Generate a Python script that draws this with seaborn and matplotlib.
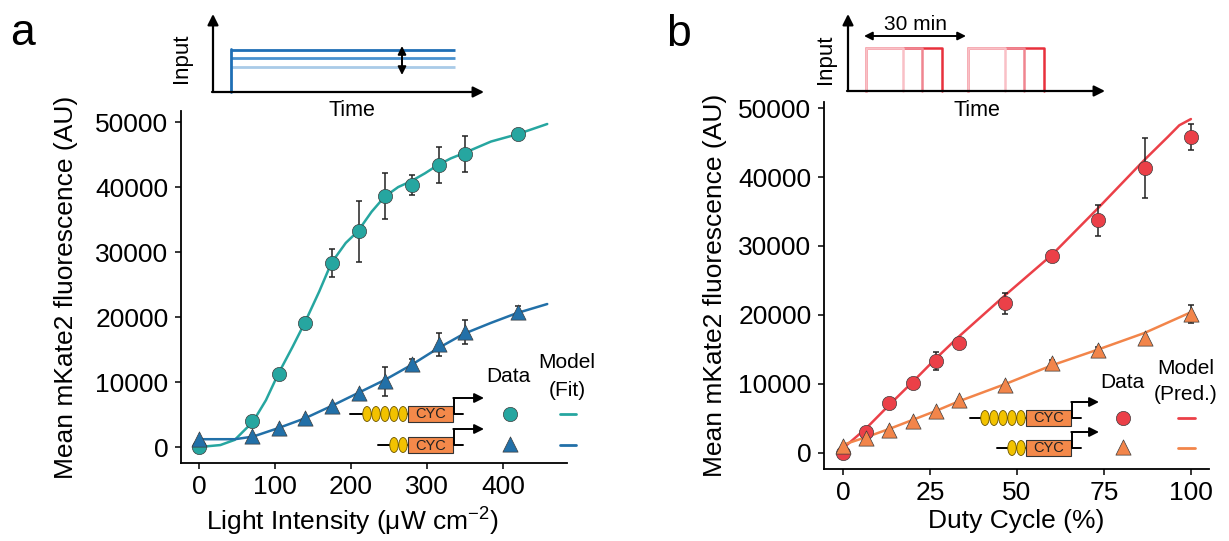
import numpy as np
import pandas as pd
import seaborn as sns
import matplotlib.pyplot as plt
from matplotlib.patches import Ellipse, Rectangle

# panel a: light intensity series
light_x = [0, 70, 105, 140, 175, 210, 245, 280, 315, 350, 420]
strong_a = [0, 4000, 11200, 19100, 28300, 33200, 38600, 40300, 43400, 45100, 48100]
strong_a_err = [0, 0, 0, 700, 2200, 4700, 3500, 1600, 2800, 2800, 0]
weak_a = [1200, 1700, 3000, 4500, 6300, 8300, 10100, 12800, 15800, 17700, 20700]
weak_a_err = [0, 0, 0, 0, 0, 0, 2200, 700, 1800, 1800, 1000]

fit_strong_x = [0, 28, 47, 71, 88, 104, 123, 139, 158, 174, 193, 209, 227, 244, 262, 279, 297, 313, 331, 348, 384, 418, 458]
fit_strong = [0, 300, 1100, 3900, 7200, 11200, 15400, 19100, 23900, 28300, 31400, 33200, 36200, 38500, 40000, 40900, 42100, 43300, 44400, 45200, 47000, 48100, 49700]
fit_weak_x = [0, 47, 71, 104, 139, 174, 209, 244, 279, 313, 348, 384, 418, 458]
fit_weak = [1200, 1200, 1600, 2900, 4400, 6300, 8300, 10300, 12600, 15100, 17400, 19100, 20600, 22000]

# panel b: duty cycle series
duty_x = [0, 6.67, 13.33, 20, 26.67, 33.33, 46.67, 60, 73.33, 86.67, 100]
strong_b = [0, 3100, 7300, 10100, 13400, 15900, 21700, 28600, 33700, 41300, 45800]
strong_b_err = [0, 0, 0, 0, 1300, 700, 1500, 0, 2200, 4300, 1900]
weak_b = [1000, 2200, 3300, 4700, 6100, 7700, 9900, 13000, 14900, 16600, 20200]
weak_b_err = [0, 0, 0, 0, 0, 0, 0, 500, 500, 0, 1300]

pred_strong_x = [0, 6.67, 13.33, 20, 26.67, 33.33, 46.67, 60, 73.33, 86.67, 93.33, 96.67, 100]
pred_strong = [700, 3600, 7000, 10300, 13700, 16900, 22900, 28700, 35500, 42500, 45800, 47500, 48400]
pred_weak_x = [0, 6.67, 13.33, 20, 26.67, 33.33, 46.67, 60, 73.33, 86.67, 100]
pred_weak = [1200, 2300, 3500, 4800, 6100, 7500, 10000, 12700, 15000, 17400, 20400]

teal = '#26a6a0'
blue = '#2270a8'
red = '#eb4048'
orange = '#f2854a'
yellow = '#f2c200'
box_orange = '#f4894a'

sns.set_style('ticks')
plt.rcParams['font.family'] = ['Liberation Sans', 'DejaVu Sans']
plt.rcParams['mathtext.fontset'] = 'custom'
plt.rcParams['mathtext.rm'] = 'Liberation Sans'
plt.rcParams['text.color'] = 'black'
plt.rcParams['axes.labelcolor'] = 'black'

W, H = 1229, 541
fig = plt.figure(figsize=(W / 100, H / 100), dpi=100)
ax_a = fig.add_axes([181 / W, (H - 463) / H, 386 / W, 352 / H])
ax_b = fig.add_axes([824 / W, (H - 469) / H, 385 / W, 367 / H])


def draw_series(ax, x, y, err, fx, fy, color, marker, size):
    df = pd.DataFrame({'x': x, 'y': y, 'err': err})
    sns.lineplot(x=fx, y=fy, ax=ax, color=color, lw=1.8, sort=False, estimator=None, zorder=2)
    e = df[df.err > 0]
    ax.errorbar(e.x, e.y, yerr=e.err, fmt='none', ecolor='#222222', elinewidth=1.1,
                capsize=2.5, capthick=1.1, zorder=3)
    sns.scatterplot(data=df, x='x', y='y', ax=ax, color=color, marker=marker, s=size,
                    edgecolor='#3c3c3c', linewidth=0.5, zorder=4)


draw_series(ax_a, light_x, strong_a, strong_a_err, fit_strong_x, fit_strong, teal, 'o', 105)
draw_series(ax_a, light_x, weak_a, weak_a_err, fit_weak_x, fit_weak, blue, '^', 120)
draw_series(ax_b, duty_x, strong_b, strong_b_err, pred_strong_x, pred_strong, red, 'o', 105)
draw_series(ax_b, duty_x, weak_b, weak_b_err, pred_weak_x, pred_weak, orange, '^', 120)

ax_a.set_xlim(-23.7, 484)
ax_a.set_ylim(-2460, 51700)
ax_a.set_xticks([0, 100, 200, 300, 400])
ax_b.set_xlim(-5.5, 105.2)
ax_b.set_ylim(-2320, 50870)
ax_b.set_xticks([0, 25, 50, 75, 100])

for ax in (ax_a, ax_b):
    ax.set_yticks(range(0, 50001, 10000))
    sns.despine(ax=ax)
    for s in ('left', 'bottom'):
        ax.spines[s].set_linewidth(1.3)
        ax.spines[s].set_color('black')
    ax.tick_params(direction='out', length=4, width=1.1, labelsize=19, pad=5,
                   colors='black', labelcolor='black')
    ax.set_ylabel('Mean mKate2 fluorescence (AU)', fontsize=19)
    ax.set_facecolor('none')

ax_a.set_xlabel('Light Intensity (μW cm$^{\\mathrm{-2}}$)', fontsize=19)
ax_b.set_xlabel('Duty Cycle (%)', fontsize=19)
ax_a.yaxis.set_label_coords(-0.267, 0.5)
ax_b.yaxis.set_label_coords(-0.252, 0.5)
ax_a.xaxis.set_label_coords(0.443, -0.118)
ax_b.xaxis.set_label_coords(0.5, -0.11)

# overlay in pixel coordinates for the schematics
ov = fig.add_axes([0, 0, 1, 1], zorder=5)
ov.set_xlim(0, W)
ov.set_ylim(H, 0)
ov.axis('off')
ov.patch.set_alpha(0)

arrow = dict(arrowstyle='-|>', color='black', lw=1.6, mutation_scale=16, shrinkA=0, shrinkB=0)
darrow = dict(arrowstyle='<|-|>', color='black', lw=1.4, mutation_scale=12, shrinkA=0, shrinkB=0)

ov.text(10, 45, 'a', fontsize=32, ha='left', va='baseline')
ov.text(666, 46, 'b', fontsize=32, ha='left', va='baseline')

# inset a: constant input levels
ov.annotate('', xy=(213, 14), xytext=(213, 92), arrowprops=arrow)
ov.annotate('', xy=(484, 92), xytext=(212, 92), arrowprops=arrow)
for yy, c in [(67, '#a9cbe8'), (58, '#4a92cf'), (50, '#1f6fb5')]:
    ov.plot([231, 455], [yy, yy], color=c, lw=2, solid_capstyle='butt')
ov.plot([231, 231], [92, 49], color='#1f6fb5', lw=2)
ov.annotate('', xy=(402, 46), xytext=(402, 75), arrowprops=darrow)
ov.text(181, 58, 'Input', fontsize=16, rotation=90, ha='center', va='center')
ov.text(352, 110, 'Time', fontsize=15.5, ha='center', va='center')

# inset b: pulsed input
ov.annotate('', xy=(848, 14), xytext=(848, 91), arrowprops=arrow)
ov.annotate('', xy=(1105, 91), xytext=(847, 91), arrowprops=arrow)
for start in (866, 968):
    for width, c in [(76, '#e8303c'), (56, '#f08590'), (37, '#f9c0c6')]:
        ov.plot([start, start, start + width, start + width], [91, 48, 48, 91], color=c, lw=1.8)
ov.annotate('', xy=(966, 36), xytext=(864, 36), arrowprops=darrow)
ov.text(915, 24, '30 min', fontsize=15, ha='center', va='center')
ov.text(826, 59, 'Input', fontsize=16, rotation=90, ha='center', va='center')
ov.text(977, 110, 'Time', fontsize=15.5, ha='center', va='center')


def construct(x_line, x_box, y, n_ovals, arrow_end):
    box_w = 45
    ov.plot([x_line, x_box + box_w + 10], [y, y], color='black', lw=1.4, zorder=1)
    for i in range(n_ovals):
        cx = x_box - 4.5 - 9 * (n_ovals - 1 - i) - 0.5
        ov.add_patch(Ellipse((cx, y), 8.5, 15, facecolor=yellow, edgecolor='#6b5400', lw=0.6, zorder=2))
    ov.add_patch(Rectangle((x_box, y - 8), box_w, 16, facecolor=box_orange, edgecolor='#333333', lw=0.8, zorder=2))
    ov.text(x_box + box_w / 2, y + 0.5, 'CYC', fontsize=10.5, ha='center', va='center', color='#222222', zorder=3)
    ov.plot([x_box + box_w + 1, x_box + box_w + 1], [y, y - 16], color='black', lw=1.4)
    ov.annotate('', xy=(arrow_end, y - 16), xytext=(x_box + box_w + 0.3, y - 16), arrowprops=dict(
        arrowstyle='-|>', color='black', lw=1.4, mutation_scale=14, shrinkA=0, shrinkB=0))


# legend a
construct(350, 408, 414, 5, 484)
construct(378, 408, 445, 2, 484)
ov.text(508, 377, 'Data', fontsize=15, ha='center', va='center')
ov.text(567, 362, 'Model', fontsize=15, ha='center', va='center')
ov.text(567, 390, '(Fit)', fontsize=15, ha='center', va='center')
ov.scatter([510], [414], s=105, marker='o', color=teal, edgecolor='#3c3c3c', linewidth=0.5)
ov.scatter([510], [444], s=120, marker='^', color=blue, edgecolor='#3c3c3c', linewidth=0.5)
ov.plot([560, 576], [414, 414], color=teal, lw=2)
ov.plot([560, 576], [445, 445], color=blue, lw=2)

# legend b
construct(970, 1026, 418, 5, 1099)
construct(997, 1026, 448, 2, 1099)
ov.text(1122, 383, 'Data', fontsize=15, ha='center', va='center')
ov.text(1186, 368, 'Model', fontsize=15, ha='center', va='center')
ov.text(1186, 395, '(Pred.)', fontsize=15, ha='center', va='center')
ov.scatter([1123], [418], s=105, marker='o', color=red, edgecolor='#3c3c3c', linewidth=0.5)
ov.scatter([1123], [447], s=120, marker='^', color=orange, edgecolor='#3c3c3c', linewidth=0.5)
ov.plot([1178, 1195], [418, 418], color=red, lw=2)
ov.plot([1178, 1195], [448, 448], color=orange, lw=2)

fig.savefig('out.png', dpi=100)
